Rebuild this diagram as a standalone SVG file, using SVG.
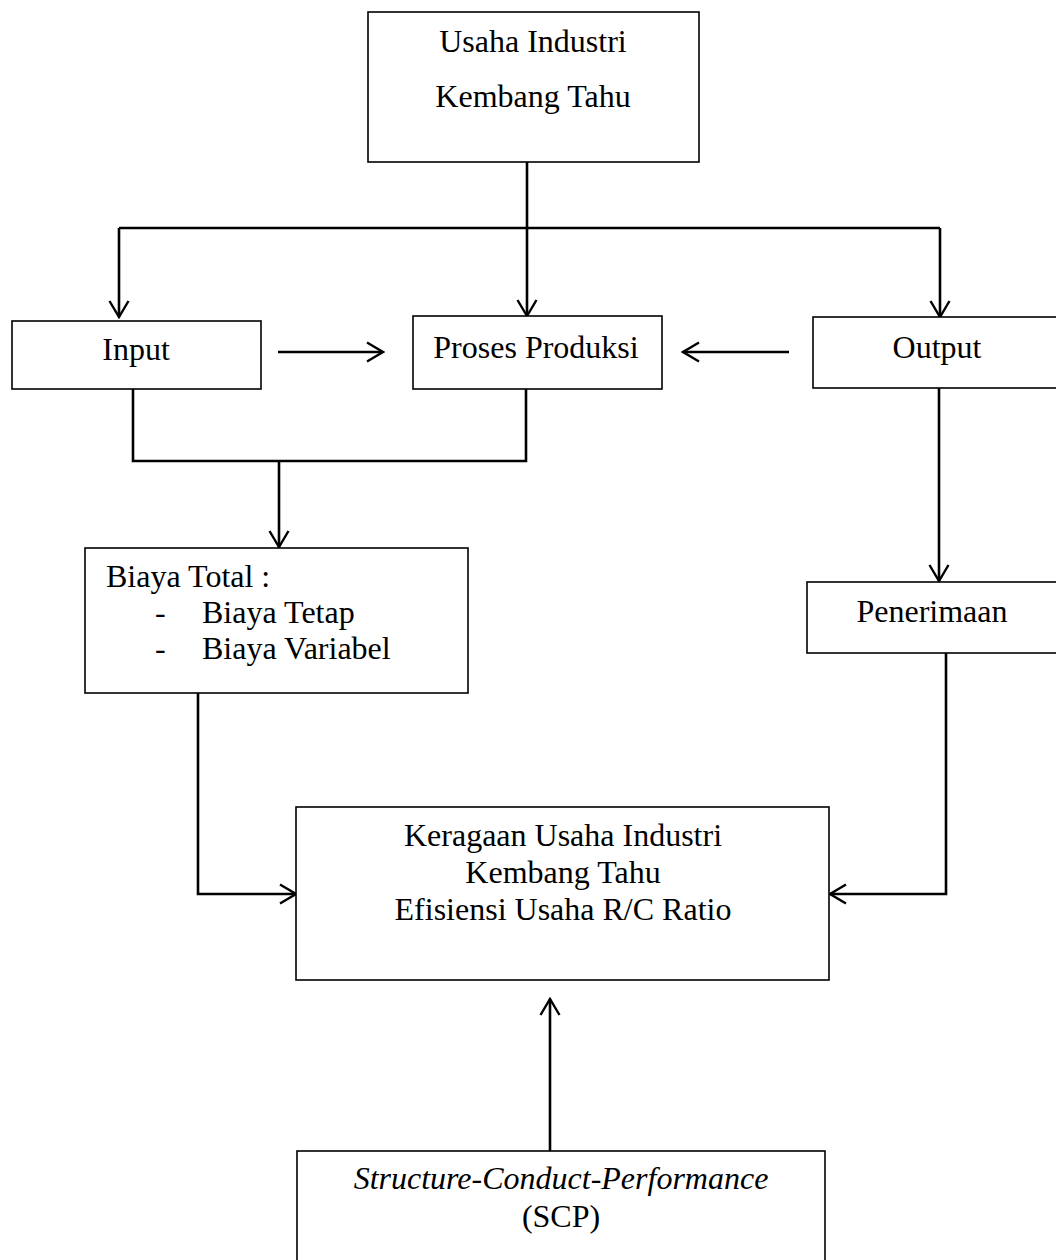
<svg xmlns="http://www.w3.org/2000/svg" width="1056" height="1260" viewBox="0 0 1056 1260">
<style>
.box{fill:#fff;stroke:#000;stroke-width:1.6}
.t{font-family:"Liberation Serif","Times New Roman",serif;font-size:32px;fill:#000}
.c{text-anchor:middle}
.conn{fill:none;stroke:#000;stroke-width:2.6}
</style>
<defs>
<marker id="ah" markerUnits="userSpaceOnUse" viewBox="0 0 20 22" refX="18" refY="11" markerWidth="20" markerHeight="22" orient="auto">
<path d="M2,1.5 L18,11 L2,20.5" fill="none" stroke="#000" stroke-width="2.4"/>
</marker>
</defs>
<rect width="1056" height="1260" fill="#fff"/>
<g id="connectors">
<path class="conn" d="M527,162 V228"/>
<path class="conn" d="M119,228 H940"/>
<path class="conn" d="M119,228 V317" marker-end="url(#ah)"/>
<path class="conn" d="M527,228 V316" marker-end="url(#ah)"/>
<path class="conn" d="M940,228 V317" marker-end="url(#ah)"/>
<path class="conn" d="M278,352 H383" marker-end="url(#ah)"/>
<path class="conn" d="M789,352 H683" marker-end="url(#ah)"/>
<path class="conn" d="M133,389 V461 H526 V389"/>
<path class="conn" d="M279,461 V547" marker-end="url(#ah)"/>
<path class="conn" d="M939,388 V581" marker-end="url(#ah)"/>
<path class="conn" d="M198,693 V894 H296" marker-end="url(#ah)"/>
<path class="conn" d="M946,653 V894 H830" marker-end="url(#ah)"/>
<path class="conn" d="M550,1151 V999" marker-end="url(#ah)"/>
</g>
<g id="usaha">
<rect class="box" x="368" y="12" width="331" height="150"/>
<text class="t c" x="533" y="52">Usaha Industri</text>
<text class="t c" x="533" y="107">Kembang Tahu</text>
</g>
<g id="input">
<rect class="box" x="12" y="321" width="249" height="68"/>
<text class="t c" x="136" y="360">Input</text>
</g>
<g id="proses">
<rect class="box" x="413" y="316" width="249" height="73"/>
<text class="t c" x="536" y="358">Proses Produksi</text>
</g>
<g id="output">
<rect class="box" x="813" y="317" width="245" height="71"/>
<text class="t c" x="937" y="358">Output</text>
</g>
<g id="biaya">
<rect class="box" x="85" y="548" width="383" height="145"/>
<text class="t" x="106" y="587">Biaya Total :</text>
<text class="t" x="155" y="623">-</text>
<text class="t" x="202" y="623">Biaya Tetap</text>
<text class="t" x="155" y="659">-</text>
<text class="t" x="202" y="659">Biaya Variabel</text>
</g>
<g id="penerimaan">
<rect class="box" x="807" y="582" width="251" height="71"/>
<text class="t c" x="932" y="622">Penerimaan</text>
</g>
<g id="keragaan">
<rect class="box" x="296" y="807" width="533" height="173"/>
<text class="t c" x="563" y="846">Keragaan Usaha Industri</text>
<text class="t c" x="563" y="883">Kembang Tahu</text>
<text class="t c" x="563" y="920">Efisiensi Usaha R/C Ratio</text>
</g>
<g id="scp">
<rect class="box" x="297" y="1151" width="528" height="130"/>
<text class="t c" x="561" y="1189"><tspan font-style="italic">Structure-Conduct-Performance</tspan></text>
<text class="t c" x="561" y="1227">(SCP)</text>
</g>
</svg>
